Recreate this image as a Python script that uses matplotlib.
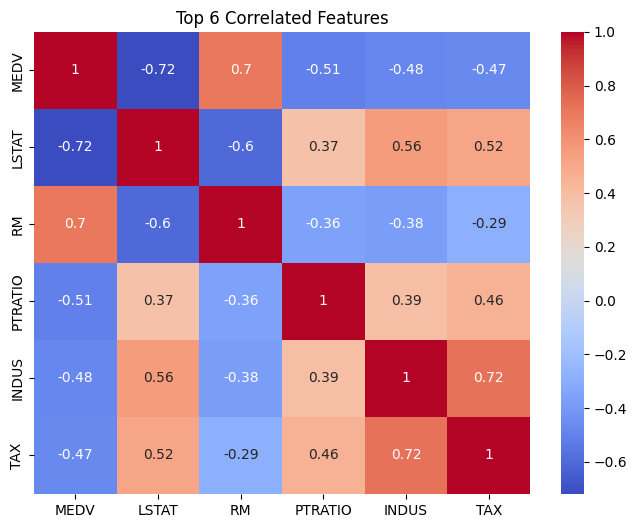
import matplotlib
matplotlib.use('Agg')

import numpy as np
import pandas as pd
import matplotlib.pyplot as plt
import seaborn as sns

# feature names, ordered by correlation with MEDV
features = ['MEDV', 'LSTAT', 'RM', 'PTRATIO', 'INDUS', 'TAX']

# correlation rows
medv = [1.00, -0.72, 0.70, -0.51, -0.48, -0.47]
lstat = [-0.72, 1.00, -0.60, 0.37, 0.56, 0.52]
rm = [0.70, -0.60, 1.00, -0.36, -0.38, -0.29]
ptratio = [-0.51, 0.37, -0.36, 1.00, 0.39, 0.46]
indus = [-0.48, 0.56, -0.38, 0.39, 1.00, 0.72]
tax = [-0.47, 0.52, -0.29, 0.46, 0.72, 1.00]

corr = pd.DataFrame([medv, lstat, rm, ptratio, indus, tax],
                    index=features, columns=features)

fig = plt.figure(figsize=(6.37, 5.28), dpi=100)
ax = fig.add_axes([0.0534, 0.0644, 0.7787, 0.875])
cax = fig.add_axes([0.8807, 0.0644, 0.0361, 0.875])

sns.heatmap(corr, annot=True, cmap='coolwarm', ax=ax, cbar_ax=cax)
ax.set_title('Top 6 Correlated Features')

fig.savefig('out.png', dpi=100)
